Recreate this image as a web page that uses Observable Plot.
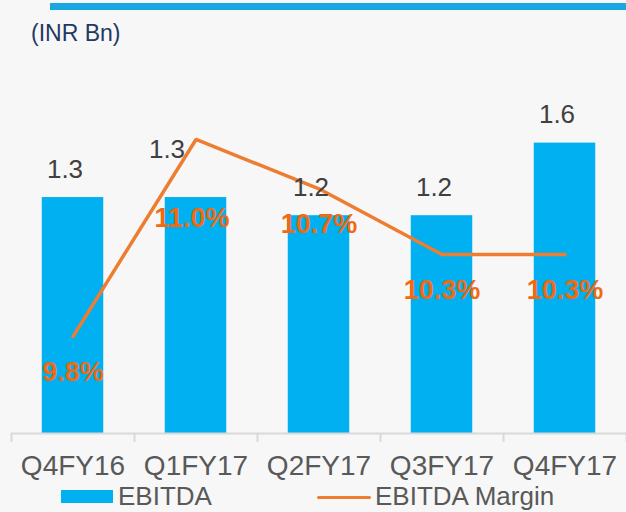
<!DOCTYPE html>
<html>
<head>
<meta charset="utf-8">
<script src="https://cdn.jsdelivr.net/npm/d3@7"></script>
<script src="https://cdn.jsdelivr.net/npm/@observablehq/plot@0.6"></script>
<style>
  html, body { margin: 0; padding: 0; background: #f7f7f7; }
  #wrap { position: relative; width: 626px; height: 512px; background: #f7f7f7; overflow: hidden;
          font-family: "Liberation Sans", Arial, sans-serif; }
  #topbar { position: absolute; left: 50px; top: 3px; width: 576px; height: 7px; background: #1aa7e1; }
  #unit { position: absolute; left: 31px; top: 22px; font-size: 23px; line-height: 23px; color: #1f3864; }
  #plot { position: absolute; left: 0; top: 0; }
  .leg { position: absolute; font-size: 26px; line-height: 26px; color: #595959; white-space: nowrap; }
  .sw { position: absolute; }
</style>
</head>
<body>
<div id="wrap">
  <div id="topbar"></div>
  <div id="unit">(INR Bn)</div>
  <div id="plot"></div>
  <div class="sw" style="left:61px;top:490px;width:52px;height:13px;background:#00b0f0"></div>
  <div class="leg" style="left:118px;top:483px">EBITDA</div>
  <div class="sw" style="left:317px;top:495.5px;width:54px;height:3.5px;background:#ed7d31;border-radius:2px"></div>
  <div class="leg" style="left:375px;top:483px">EBITDA Margin</div>
</div>
<script>
const quarters = ["Q4FY16", "Q1FY17", "Q2FY17", "Q3FY17", "Q4FY17"];
const ebitda = [1.3, 1.3, 1.2, 1.2, 1.6];
const ebitdaMargin = [9.8, 11.0, 10.7, 10.3, 10.3];

const rows = quarters.map((q, i) => ({ i, q, ebitda: ebitda[i], margin: ebitdaMargin[i] }));

// secondary axis (margin %) mapped onto the primary y scale
const mScale = d3.scaleLinear().domain([9.21, 11.42]).range([0, 2]);

const idx = rows.map(d => d.i);
const bounds = [-0.5, 0.5, 1.5, 2.5, 3.5, 4.5];
const font = "Liberation Sans, Arial, sans-serif";

const chart = Plot.plot({
  width: 626,
  height: 485,
  marginTop: 70,
  marginBottom: 52,
  marginLeft: 11,
  marginRight: 0,
  style: { background: "transparent", fontFamily: font, overflow: "visible" },
  x: { type: "linear", domain: [-0.5, 4.5], axis: null, label: null },
  y: { domain: [0, 2], axis: null, label: null },
  marks: [
    Plot.rectY(rows, { x1: d => d.i - 0.25, x2: d => d.i + 0.25, y: "ebitda", fill: "#00b0f0" }),
    Plot.ruleY([0], { stroke: "#d9d9d9", strokeWidth: 2 }),
    Plot.axisX(bounds, { label: null, tickSize: 9, tickFormat: () => "", stroke: "#d9d9d9", strokeWidth: 2, strokeOpacity: 1 }),
    Plot.axisX(idx, { label: null, tickSize: 0, tickPadding: 22, tickFormat: i => quarters[i], fontSize: 28, fill: "#595959", fontFamily: font }),
    Plot.line(rows, { x: "i", y: d => mScale(d.margin), stroke: "#ed7d31", strokeWidth: 3.5, strokeLinejoin: "miter" }),
    Plot.text(rows.filter(d => d.i !== 1), { x: "i", y: "ebitda", text: d => d.ebitda.toFixed(1), dx: -8, dy: -28, fontSize: 26, fill: "#404040", fontFamily: font }),
    Plot.text(rows.filter(d => d.i === 1), { x: "i", y: "ebitda", text: d => d.ebitda.toFixed(1), dx: -29, dy: -48, fontSize: 26, fill: "#404040", fontFamily: font }),
    Plot.text(rows.filter(d => d.i !== 1), { x: "i", y: d => mScale(d.margin), text: d => d.margin.toFixed(1) + "%", dy: 36, fontSize: 27, fontWeight: "bold", fill: "#ef6a12", fontFamily: font }),
    Plot.text(rows.filter(d => d.i === 1), { x: "i", y: d => mScale(d.margin), text: d => d.margin.toFixed(1) + "%", dx: -4, dy: 79, fontSize: 27, fontWeight: "bold", fill: "#ef6a12", fontFamily: font })
  ]
});
document.getElementById("plot").appendChild(chart);
</script>
</body>
</html>
